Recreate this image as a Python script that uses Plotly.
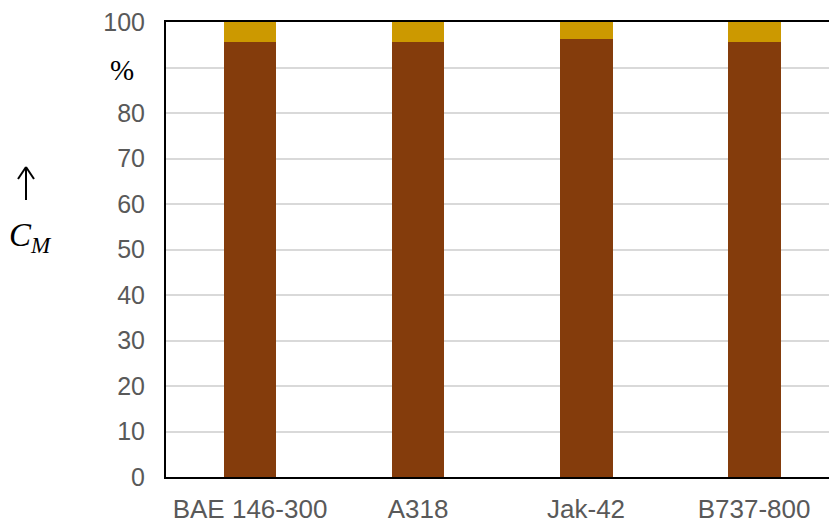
import plotly.graph_objects as go

categories = ["BAE 146-300", "A318", "Jak-42", "B737-800"]
lower_values = [95.5, 95.5, 96.2, 95.5]
upper_values = [4.5, 4.5, 3.8, 4.5]
y_ticks = [0, 10, 20, 30, 40, 50, 60, 70, 80, 90, 100]
y_tick_labels = ["0", "10", "20", "30", "40", "50", "60", "70", "80", "", "100"]

W, H = 829, 525
L, R, T, B = 166, 0, 22, 48
pw, ph = W - L - R, H - T - B

def px(x):
    return (x - L) / pw

def py(y):
    return (H - B - y) / ph

fig = go.Figure()
fig.add_trace(go.Bar(x=categories, y=lower_values, marker_color="#843C0C",
                     width=0.315, marker_line_width=0))
fig.add_trace(go.Bar(x=categories, y=upper_values, marker_color="#CC9900",
                     width=0.315, marker_line_width=0))

tick_font = dict(family="Liberation Sans, Arial", size=25, color="#595959")
x_tick_font = dict(family="Liberation Sans, Arial", size=26, color="#595959")

fig.update_layout(
    barmode="stack",
    width=W, height=H,
    margin=dict(l=L, r=R, t=T, b=B, pad=0),
    paper_bgcolor="white", plot_bgcolor="white",
    showlegend=False,
    xaxis=dict(type="category", range=[-0.5, 3.446], showline=True, linecolor="black",
               linewidth=2, mirror=True, showgrid=False, ticks="", tickfont=x_tick_font,
               ticklabelstandoff=8),
    yaxis=dict(range=[0, 100], tickvals=y_ticks, ticktext=y_tick_labels, showline=True,
               linecolor="black", linewidth=2, mirror=False, showgrid=True,
               gridcolor="#D9D9D9", gridwidth=1.5, ticks="", tickfont=tick_font,
               ticklabelstandoff=14, zeroline=False),
)

serif = "Liberation Serif, DejaVu Serif, serif"
fig.add_annotation(xref="paper", yref="paper", x=px(121.5), y=py(70), text="%",
                   showarrow=False, font=dict(family=serif, size=29, color="black"),
                   xanchor="center", yanchor="middle")
fig.add_annotation(xref="paper", yref="paper", x=px(30), y=py(237),
                   text="<i>C</i><sub><i>M</i></sub>",
                   showarrow=False, font=dict(family=serif, size=33, color="black"),
                   xanchor="center", yanchor="middle")

# arrow
line = dict(color="black", width=2)
fig.add_shape(type="line", xref="paper", yref="paper", x0=px(26), y0=py(200),
              x1=px(26), y1=py(167), line=line)
fig.add_shape(type="line", xref="paper", yref="paper", x0=px(26), y0=py(167),
              x1=px(18), y1=py(179), line=line)
fig.add_shape(type="line", xref="paper", yref="paper", x0=px(26), y0=py(167),
              x1=px(34), y1=py(179), line=line)

fig.write_html("out.html", config={"displayModeBar": False},
               post_script="document.body.style.margin='0';document.body.style.overflow='hidden';")
